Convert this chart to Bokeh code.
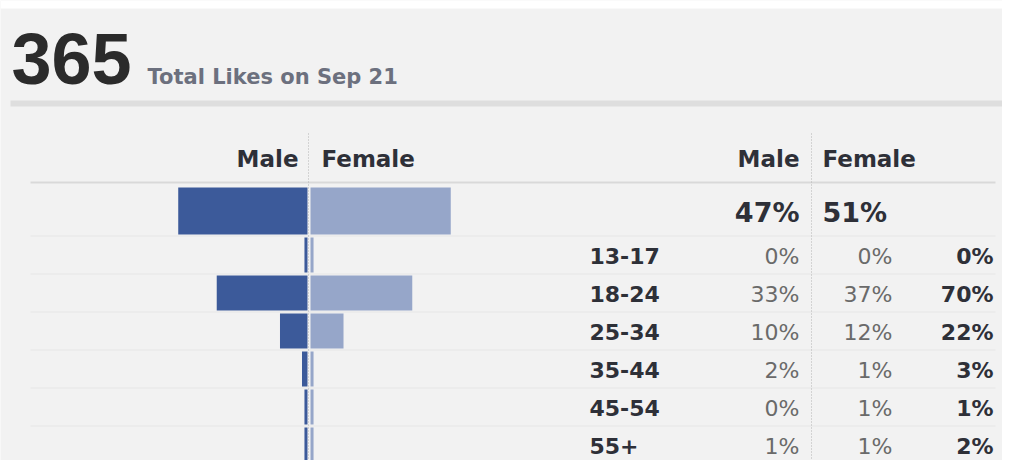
from bokeh.plotting import figure
from bokeh.models import Range1d, ColumnDataSource
from bokeh.core.properties import value
from bokeh.embed import file_html
from bokeh.resources import INLINE

# ---- data ----
ages = ["13-17", "18-24", "25-34", "35-44", "45-54", "55+"]
male = [0, 33, 10, 2, 0, 1]
female = [0, 37, 12, 1, 1, 1]
total = [0, 70, 22, 3, 1, 2]
male_total = 47
female_total = 51
total_likes = 365
date_label = "Sep 21"

# ---- style / layout ----
W, H = 1002, 460
BG = "#f2f2f2"
MALE_C = "#3c5a9a"
FEMALE_C = "#96a6c9"
DARK = "#2e3038"
GREY = "#6a6a6a"
FONT = "DejaVu Sans"
PX_PER_PCT = 2.75
ORIGIN = 308.5          # pixel position of the 0% line of the pyramid
GAP = 0.55              # half gap between male and female bars (pct units)
MIN_W = 1.1             # minimal drawn bar length (pct units)

row0 = 254.5
step = 38.0
row_y = [row0 + i * step for i in range(len(ages))]
total_y = 210.5

p = figure(width=W, height=H, output_backend="svg", toolbar_location=None,
           x_range=Range1d(0, W), y_range=Range1d(H, 0),
           x_axis_location=None, y_axis_location=None,
           background_fill_color=BG, border_fill_color=BG,
           outline_line_color=None, min_border=0,
           min_border_left=0, min_border_right=0, min_border_top=0, min_border_bottom=0)
p.grid.visible = False
p.extra_x_ranges = {"pct": Range1d(-ORIGIN / PX_PER_PCT, (W - ORIGIN) / PX_PER_PCT)}

# top white strip of the page
p.quad(left=[0], right=[W], top=[0], bottom=[8], fill_color="white", line_color=None)

# title
p.text(x=[11], y=[58], text=[str(total_likes)], text_font=value("Liberation Sans"),
       text_font_style="bold", text_font_size="72px", text_color="#2b2b2b",
       text_baseline="middle", text_align="left")
p.text(x=[147], y=[76], text=["Total Likes on " + date_label], text_font=value(FONT),
       text_font_style="bold", text_font_size="21px", text_color="#6c707e",
       text_baseline="middle", text_align="left")
p.segment(x0=[10], x1=[W], y0=[103], y1=[103], line_color="#dedede", line_width=6)

# header rule + faint row separators
p.segment(x0=[30], x1=[995], y0=[182], y1=[182], line_color="#d9d9d9", line_width=2)
sep_y = [row_y[0] - step / 2] + [y + step / 2 for y in row_y[:-1]]
p.segment(x0=[30] * len(sep_y), x1=[995] * len(sep_y), y0=sep_y, y1=sep_y,
          line_color="#eaeaea", line_width=1.5)

# dotted vertical dividers
p.segment(x0=[308, 811], x1=[308, 811], y0=[133, 133], y1=[H, H],
          line_color="#b5b5b5", line_width=1, line_dash="1 2")

# ---- pyramid bars ----
m_len = [max(v, MIN_W) for v in male]
f_len = [max(v, MIN_W) for v in female]
bars = ColumnDataSource(dict(
    y=row_y,
    m_left=[-(GAP + v) for v in m_len], m_right=[-GAP] * len(ages),
    f_left=[GAP] * len(ages), f_right=[GAP + v for v in f_len],
))
p.hbar(y="y", left="m_left", right="m_right", height=35, source=bars,
       x_range_name="pct", fill_color=MALE_C, line_color=None)
p.hbar(y="y", left="f_left", right="f_right", height=35, source=bars,
       x_range_name="pct", fill_color=FEMALE_C, line_color=None)
p.hbar(y=[total_y], left=[-(GAP + male_total)], right=[-GAP], height=47,
       x_range_name="pct", fill_color=MALE_C, line_color=None)
p.hbar(y=[total_y], left=[GAP], right=[GAP + female_total], height=47,
       x_range_name="pct", fill_color=FEMALE_C, line_color=None)

# ---- texts ----
def txt(x, y, s, align, size="23px", bold=True, color=DARK):
    p.text(x=x if isinstance(x, list) else [x], y=y if isinstance(y, list) else [y],
           text=s if isinstance(s, list) else [s], text_font=value(FONT),
           text_font_style="bold" if bold else "normal", text_font_size=size,
           text_color=color, text_baseline="middle", text_align=align)

txt(298, 158, "Male", "right")
txt(321, 158, "Female", "left")
txt(799, 158, "Male", "right")
txt(822, 158, "Female", "left")

# totals row
txt(799, 212, f"{male_total}%", "right", size="27px")
txt(822, 212, f"{female_total}%", "left", size="27px")

# table
mid = [y + 1 for y in row_y]
n = len(ages)
txt([589] * n, mid, ages, "left", size="22px")
txt([799] * n, mid, [f"{v}%" for v in male], "right", size="22px", bold=False, color=GREY)
txt([892] * n, mid, [f"{v}%" for v in female], "right", size="22px", bold=False, color=GREY)
txt([993] * n, mid, [f"{v}%" for v in total], "right", size="22px")

open("out.html", "w").write(file_html(p, INLINE))
